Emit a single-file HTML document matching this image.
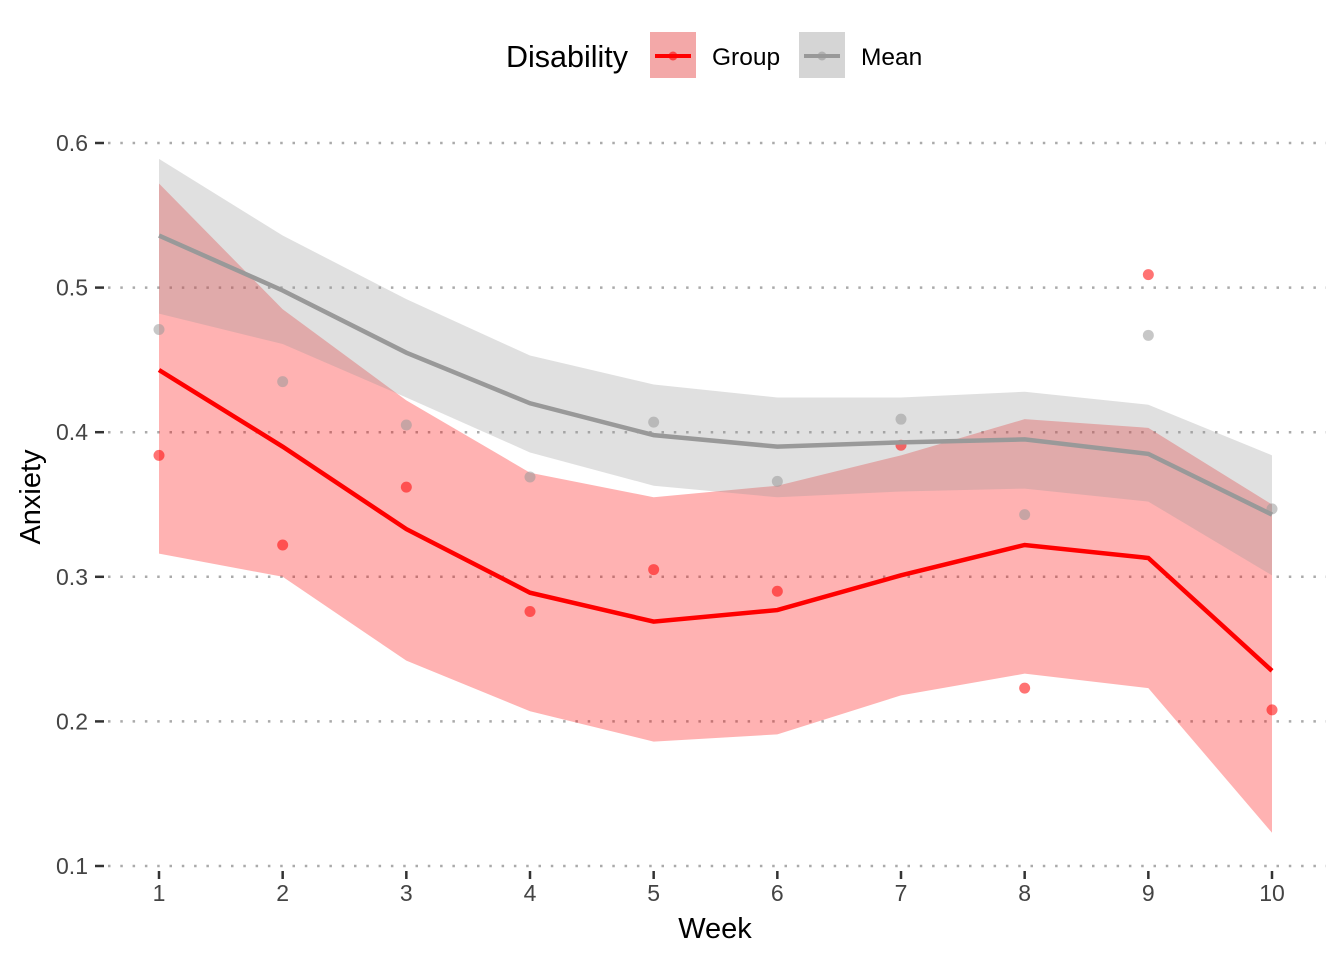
<!DOCTYPE html>
<html><head><meta charset="utf-8"><style>
body{margin:0;background:#fff;}
svg{display:block;font-family:"Liberation Sans",Arial,sans-serif;}
</style></head><body>
<svg id="chart" width="1344" height="960">
<g id="grid"></g>
<g id="axes"></g>
<g id="plot"></g>
<text x="715" y="938" font-size="29" text-anchor="middle" fill="#000">Week</text>
<text transform="translate(40,497) rotate(-90)" font-size="29" text-anchor="middle" fill="#000">Anxiety</text>
<g>
<text x="506" y="67" font-size="30.5" fill="#000">Disability</text>
<g>
<rect x="650" y="32" width="46" height="46" fill="#f3a8a8"/>
<line x1="655" y1="56" x2="691" y2="56" stroke="#ff0000" stroke-width="4"/>
<circle cx="673" cy="56" r="4.5" fill="#ff0000" opacity="0.6"/>
<text x="712" y="65" font-size="24.5" fill="#000">Group</text></g>
<g>
<rect x="799" y="32" width="46" height="46" fill="#d5d5d5"/>
<line x1="804" y1="56" x2="840" y2="56" stroke="#999" stroke-width="4"/>
<circle cx="822" cy="56" r="4.5" fill="#999" opacity="0.6"/>
<text x="861" y="65" font-size="24.5" fill="#000">Mean</text></g>
</g>
</svg>
<script>
const weeks=[1,2,3,4,5,6,7,8,9,10];
const yTicks=[0.1,0.2,0.3,0.4,0.5,0.6];
const groupLine=[0.443,0.390,0.333,0.289,0.269,0.277,0.301,0.322,0.313,0.235];
const groupUpper=[0.572,0.485,0.422,0.372,0.355,0.363,0.384,0.409,0.403,0.350];
const groupLower=[0.316,0.300,0.242,0.207,0.186,0.191,0.218,0.233,0.223,0.123];
const groupPoints=[0.384,0.322,0.362,0.276,0.305,0.290,0.391,0.223,0.509,0.208];
const meanLine=[0.536,0.498,0.455,0.420,0.398,0.390,0.393,0.395,0.385,0.343];
const meanUpper=[0.589,0.536,0.492,0.453,0.433,0.424,0.424,0.428,0.419,0.384];
const meanLower=[0.482,0.461,0.424,0.386,0.363,0.355,0.359,0.361,0.352,0.301];
const meanPoints=[0.471,0.435,0.405,0.369,0.407,0.366,0.409,0.343,0.467,0.347];

const NS="http://www.w3.org/2000/svg";
const X=w=>159+(w-1)*(1272-159)/9;
const Y=v=>866-(v-0.1)*(866-143)/0.5;
function mk(tag,attrs,parent){const e=document.createElementNS(NS,tag);for(const k in attrs)e.setAttribute(k,attrs[k]);parent.appendChild(e);return e;}
const grid=document.getElementById('grid'),axes=document.getElementById('axes'),plot=document.getElementById('plot');
yTicks.forEach(t=>{
  const l=mk('line',{x1:108,x2:1326,y1:Y(t),y2:Y(t),stroke:'#aaa','stroke-width':2.5,'stroke-dasharray':'2.5 9.8'},grid);
  
  
  mk('line',{x1:95,x2:104,y1:Y(t),y2:Y(t),stroke:'#333','stroke-width':2.5},axes);
  const tx=mk('text',{x:88,y:Y(t)+8,'font-size':23,'text-anchor':'end',fill:'#444'},axes);
  tx.textContent=t.toFixed(1);
  
  
});
weeks.forEach(w=>{
  mk('line',{x1:X(w),x2:X(w),y1:871,y2:879,stroke:'#333','stroke-width':2.5},axes);
  const tx=mk('text',{x:X(w),y:901,'font-size':23,'text-anchor':'middle',fill:'#444'},axes);
  tx.textContent=w;
  
  
});
function ribbon(up,lo,color,name){
  let d='M'+weeks.map((w,i)=>X(w)+','+Y(up[i])).join('L');
  d+='L'+weeks.slice().reverse().map((w,j)=>X(w)+','+Y(lo[weeks.length-1-j])).join('L')+'Z';
  const p=mk('path',{d:d,fill:color,'fill-opacity':0.3},plot);
  
  
}
function line(vals,color,name){
  const p=mk('polyline',{points:weeks.map((w,i)=>X(w)+','+Y(vals[i])).join(' '),fill:'none',stroke:color,'stroke-width':4.5},plot);
  
  
}
function points(vals,color,name){
  weeks.forEach((w,i)=>{
    const c=mk('circle',{cx:X(w),cy:Y(vals[i]),r:5.5,fill:color,'fill-opacity':0.55},plot);
    
    
  });
}
ribbon(groupUpper,groupLower,'#ff0000','group-ribbon');
ribbon(meanUpper,meanLower,'#999999','mean-ribbon');
points(groupPoints,'#ff0000','group-point');
points(meanPoints,'#999999','mean-point');
line(groupLine,'#ff0000','group-line');
line(meanLine,'#999999','mean-line');
</script>
</body></html>
